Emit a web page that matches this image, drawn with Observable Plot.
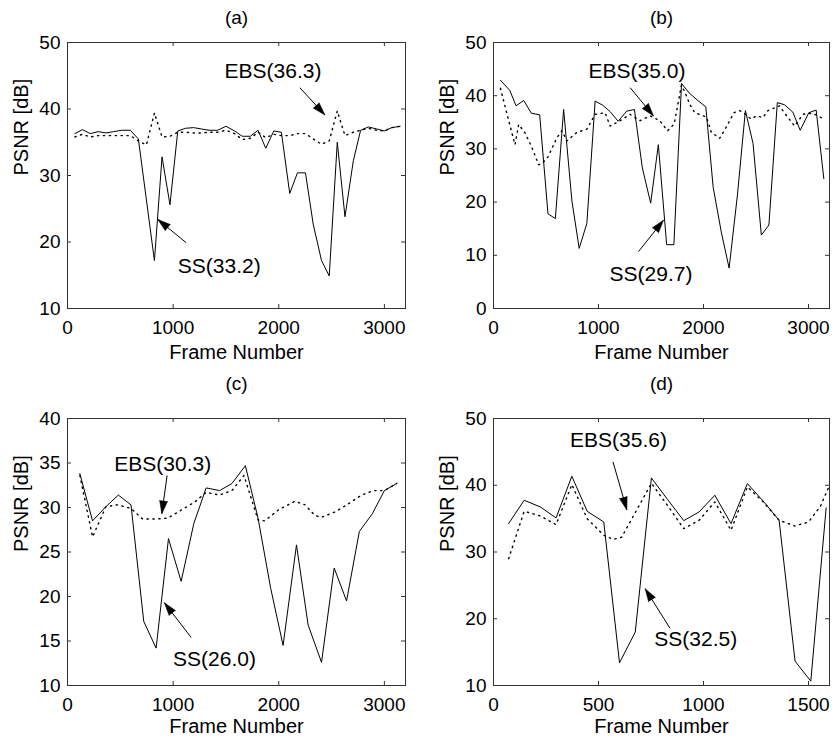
<!DOCTYPE html>
<html><head><meta charset="utf-8">
<script src="https://cdn.jsdelivr.net/npm/d3@7"></script>
<script src="https://cdn.jsdelivr.net/npm/@observablehq/plot@0.6"></script>
<style>
body{margin:0;background:#fff;}
#chart{position:relative;width:835px;height:739px;background:#fff;}
.panel{position:absolute;}
</style></head><body><div id="chart"></div>
<script>
// ---- Panel (a) ----
const aSSFrames = [70,142,215,291,364,437,513,595,671,823,895,970,1044,1117,1193,1266,1340,1420,1500,1582,1655,1731,1804,1877,1953,2025,2104,2177,2253,2326,2405,2478,2554,2627,2706,2775,2848,2927,3000,3070,3149];
const aSS = [36.3,36.9,36.3,36.6,36.4,36.6,36.8,36.8,35.5,17.2,32.8,25.6,36.7,37.1,37.2,37.0,36.8,36.8,37.4,36.7,35.9,35.9,36.8,34.1,36.7,36.5,27.3,30.4,30.4,22.7,17.2,14.9,35.0,23.8,32.2,36.8,37.3,37.0,36.7,37.2,37.4];
const aEBSFrames = [70,142,215,291,364,437,513,595,671,747,823,895,970,1044,1117,1193,1266,1340,1420,1500,1582,1655,1731,1804,1877,1953,2025,2104,2177,2253,2326,2405,2478,2554,2627,2706,2775,2848,2927,3000,3070,3149];
const aEBS = [35.8,36.2,35.8,36.0,36.0,36.0,36.0,36.0,35.2,34.6,39.4,35.8,35.9,36.5,36.5,36.4,36.4,36.5,36.5,36.8,36.3,35.4,35.6,36.5,35.7,36.2,36.0,36.0,36.3,36.3,35.5,34.7,35.2,39.7,36.0,36.5,36.8,37.1,36.8,36.7,37.2,37.4];
const aNotes = [
  {label: "EBS(36.3)", tx: 1945, ty: 45.7, x1: 2200, y1: 43.2, x2: 2437, y2: 39.1},
  {label: "SS(33.2)", tx: 1437, ty: 16.3, x1: 1123, y1: 19.9, x2: 855, y2: 23.4}
];

// ---- Panel (b) ----
const bSSFrames = [66,155,215,288,361,440,519,589,668,747,816,889,968,1041,1111,1187,1269,1342,1418,1497,1570,1649,1718,1791,1864,1940,2022,2092,2171,2244,2323,2399,2472,2551,2623,2703,2772,2851,2921,3003,3073,3146];
const bSS = [42.9,41.0,38.1,39.1,36.7,36.4,17.8,16.9,37.4,20.2,11.3,16.0,39.0,38.2,37.0,35.2,37.1,37.4,26.4,19.8,30.8,12.0,12.0,42.3,40.5,39.2,37.9,22.8,14.2,7.6,21.3,37.2,31.0,13.8,15.7,38.7,38.3,36.9,33.5,36.8,37.3,24.4];
const bEBSFrames = [66,145,205,240,300,361,430,475,519,604,652,699,794,889,968,1063,1111,1206,1300,1396,1491,1585,1657,1721,1790,1837,1869,1917,2028,2075,2154,2217,2290,2344,2398,2455,2503,2567,2614,2725,2773,2868,2948,3011,3074,3146];
const bEBS = [41.4,35.3,30.8,34.6,33.0,30.5,27.0,27.5,28.5,32.1,33.4,31.5,33.1,33.7,36.5,36.8,34.3,35.3,36.5,35.3,36.2,35.3,33.4,34.7,42.0,40.0,38.4,36.8,36.0,33.1,32.0,34.1,36.8,37.2,36.5,35.6,36.2,35.9,37.2,38.1,36.7,34.3,36.5,36.7,36.4,35.6];
const bNotes = [
  {label: "EBS(35.0)", tx: 1366, ty: 44.5, x1: 1302, y1: 41.5, x2: 1524, y2: 36.2},
  {label: "SS(29.7)", tx: 1500, ty: 6.5, x1: 1381, y1: 10.7, x2: 1619, y2: 16.6}
];

// ---- Panel (c) ----
const cSSFrames = [117,237,364,481,601,722,839,956,1076,1196,1313,1440,1557,1684,1804,1924,2041,2168,2278,2405,2525,2642,2763,2886,3000,3117];
const cSS = [33.8,28.5,30.1,31.4,30.3,17.2,14.2,26.5,21.7,28.2,32.2,31.9,32.7,34.7,28.8,20.9,14.5,25.8,16.8,12.6,23.2,19.5,27.3,29.3,31.9,32.7];
const cEBSFrames = [117,237,364,475,601,712,823,949,1076,1203,1313,1440,1557,1671,1804,1867,1994,2152,2250,2342,2405,2532,2658,2785,2896,3000,3117];
const cEBS = [33.6,26.7,30.1,30.3,29.9,28.7,28.7,28.8,29.7,30.6,31.7,31.4,31.9,33.6,28.6,28.5,29.7,30.7,30.3,29.1,28.9,29.5,30.4,31.4,31.9,31.9,32.7];
const cNotes = [
  {label: "EBS(30.3)", tx: 902, ty: 34.9, x1: 943, y1: 33.6, x2: 893, y2: 29.3},
  {label: "SS(26.0)", tx: 1392, ty: 13.0, x1: 1171, y1: 15.4, x2: 917, y2: 19.3}
];

// ---- Panel (d) ----
const dSSFrames = [72,146,223,298,373,446,525,600,675,752,828,906,979,1054,1131,1209,1285,1360,1436,1511,1584];
const dSS = [34.25,37.75,36.75,35.1,41.35,36.1,34.5,13.4,18.0,41.1,37.9,34.7,36.0,38.5,34.25,40.25,37.6,34.75,13.65,10.65,36.6];
const dEBSFrames = [72,146,223,298,373,446,525,570,610,752,828,906,979,1054,1131,1209,1285,1360,1436,1500,1556,1600];
const dEBS = [29.0,36.1,35.4,34.1,40.1,35.0,32.5,31.9,32.2,40.3,37.0,33.5,34.75,37.5,33.25,39.75,37.5,34.75,33.9,34.5,36.8,40.0];
const dNotes = [
  {label: "EBS(35.6)", tx: 595, ty: 46.7, x1: 569, y1: 43.5, x2: 635, y2: 36.3},
  {label: "SS(32.5)", tx: 963, ty: 17.0, x1: 840, y1: 18.6, x2: 722, y2: 24.5}
];

// ---- Axes ----
const xTicks3200 = [0, 1000, 2000, 3000];
const xTicks1600 = [0, 500, 1000, 1500];
const yTicks50 = [10, 20, 30, 40, 50];
const yTicks0to50 = [0, 10, 20, 30, 40, 50];
const yTicks40 = [10, 15, 20, 25, 30, 35, 40];
const titles = ["(a)", "(b)", "(c)", "(d)"];
const xLabel = "Frame Number";
const yLabel = "PSNR [dB]";

const FONT = "'Liberation Sans', Arial, Helvetica, sans-serif";
const TICK = 4;

function panel(cfg) {
  const {left, top, width, height, ml, mr, mt, mb, xDomain, yDomain, xTicks, yTicks,
         ssX, ssY, ebsX, ebsY, notes, title, titleDy, xLabelDy} = cfg;
  const iw = width - ml - mr, ih = height - mt - mb;
  const kx = iw / (xDomain[1] - xDomain[0]);
  const ky = ih / (yDomain[1] - yDomain[0]);
  const ss = ssX.map((x, i) => ({x, y: ssY[i]}));
  const ebs = ebsX.map((x, i) => ({x, y: ebsY[i]}));
  const nts = notes.map(n => ({...n, rot: Math.atan2((n.x2 - n.x1) * kx, (n.y2 - n.y1) * ky) * 180 / Math.PI}));
  const svg = Plot.plot({
    width, height,
    marginLeft: ml, marginRight: mr, marginTop: mt, marginBottom: mb,
    style: {fontFamily: FONT, fontSize: "20px", color: "black", background: "white", overflow: "visible"},
    x: {domain: xDomain, label: null},
    y: {domain: yDomain, label: null},
    marks: [
      Plot.line(ebs, {x: "x", y: "y", stroke: "black", strokeWidth: 1.4, strokeDasharray: "1.3,4.6"}),
      Plot.line(ss, {x: "x", y: "y", stroke: "black", strokeWidth: 1}),
      Plot.ruleX(xTicks, {x: d => d, insetTop: ih - TICK, stroke: "#333"}),
      Plot.ruleX(xTicks, {x: d => d, insetBottom: ih - TICK, stroke: "#333"}),
      Plot.ruleY(yTicks, {y: d => d, insetRight: iw - TICK, stroke: "#333"}),
      Plot.ruleY(yTicks, {y: d => d, insetLeft: iw - TICK, stroke: "#333"}),
      Plot.frame({stroke: "#333", strokeWidth: 1}),
      Plot.axisX({ticks: xTicks, tickSize: 0, tickPadding: 12, tickFormat: d => String(d), fontSize: 19}),
      Plot.axisY({ticks: yTicks, tickSize: 0, tickPadding: 7, tickFormat: d => String(d), fontSize: 19}),
      Plot.text([title], {text: d => d, frameAnchor: "top", lineAnchor: "middle", dy: titleDy, fontSize: 19}),
      Plot.text([xLabel], {text: d => d, frameAnchor: "bottom", lineAnchor: "middle", dy: xLabelDy, fontSize: 20}),
      Plot.text([yLabel], {text: d => d, frameAnchor: "left", lineAnchor: "middle", dx: -46, rotate: -90, fontSize: 20}),
      Plot.text(nts, {x: "tx", y: "ty", text: "label", fontSize: 21}),
      Plot.link(nts, {x1: "x1", y1: "y1", x2: "x2", y2: "y2", stroke: "black", strokeWidth: 1}),
      Plot.vector(nts, {x: "x2", y: "y2", rotate: "rot", length: 13, r: 4, shape: "spike", anchor: "end", fill: "black", stroke: "black", strokeWidth: 0.5})
    ]
  });
  const div = document.createElement("div");
  div.className = "panel";
  div.style.left = left + "px";
  div.style.top = top + "px";
  div.appendChild(svg);
  document.getElementById("chart").appendChild(div);
}

panel({left: 0, top: 0, width: 417, height: 370, ml: 67, mr: 12, mt: 42, mb: 62,
  xDomain: [0, 3200], yDomain: [10, 50], xTicks: xTicks3200, yTicks: yTicks50,
  ssX: aSSFrames, ssY: aSS, ebsX: aEBSFrames, ebsY: aEBS, notes: aNotes, title: titles[0], titleDy: -25, xLabelDy: 44});
panel({left: 417, top: 0, width: 418, height: 370, ml: 76, mr: 6, mt: 42, mb: 62,
  xDomain: [0, 3200], yDomain: [0, 50], xTicks: xTicks3200, yTicks: yTicks0to50,
  ssX: bSSFrames, ssY: bSS, ebsX: bEBSFrames, ebsY: bEBS, notes: bNotes, title: titles[1], titleDy: -25, xLabelDy: 44});
panel({left: 0, top: 370, width: 417, height: 369, ml: 67, mr: 12, mt: 48, mb: 54,
  xDomain: [0, 3200], yDomain: [10, 40], xTicks: xTicks3200, yTicks: yTicks40,
  ssX: cSSFrames, ssY: cSS, ebsX: cEBSFrames, ebsY: cEBS, notes: cNotes, title: titles[2], titleDy: -35, xLabelDy: 41});
panel({left: 417, top: 370, width: 418, height: 369, ml: 76, mr: 6, mt: 48, mb: 54,
  xDomain: [0, 1600], yDomain: [10, 50], xTicks: xTicks1600, yTicks: yTicks50,
  ssX: dSSFrames, ssY: dSS, ebsX: dEBSFrames, ebsY: dEBS, notes: dNotes, title: titles[3], titleDy: -35, xLabelDy: 41});
</script>
</body></html>
